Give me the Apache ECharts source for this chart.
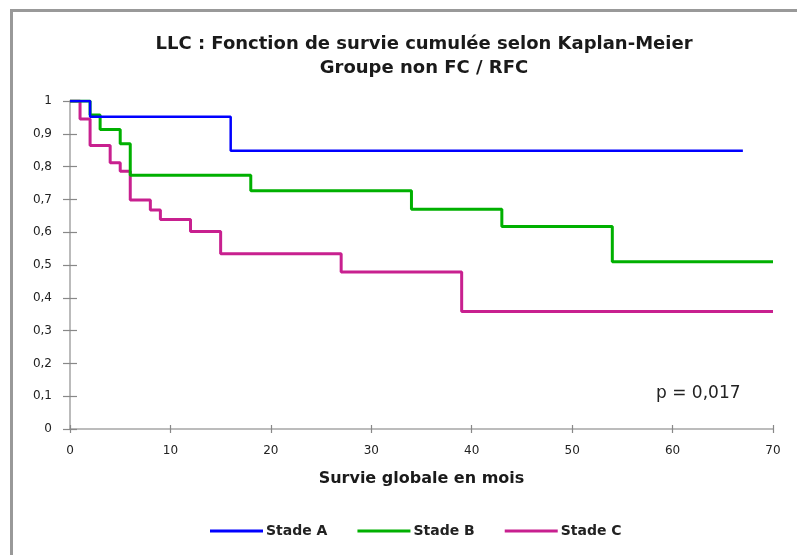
<!DOCTYPE html>
<html>
<head>
<meta charset="utf-8">
<script src="https://cdn.jsdelivr.net/npm/echarts@6/dist/echarts.min.js"></script>
<style>
html,body{margin:0;padding:0;background:#fff;}
#frame{position:absolute;left:10px;top:9px;width:800px;height:560px;border-left:3px solid #999;border-top:3px solid #999;box-sizing:border-box;}
#chart{position:absolute;left:0;top:0;width:797px;height:555px;}
</style>
</head>
<body>
<div id="frame"></div>
<div id="chart"></div>
<script>
const titleLines = ["LLC : Fonction de survie cumulée selon Kaplan-Meier", "Groupe non FC / RFC"];
const xAxisName = "Survie globale en mois";
const pValueText = "p = 0,017";
const seriesNames = ["Stade A", "Stade B", "Stade C"];
const seriesColors = ["#0000ff", "#00b000", "#c8208f"];

const timesA = [0, 2, 16, 67];
const survA  = [1, 0.952, 0.848, 0.848];

const timesB = [0, 2, 3, 5, 6, 18, 34, 43, 54, 70];
const survB  = [1, 0.957, 0.913, 0.870, 0.774, 0.726, 0.670, 0.617, 0.510, 0.510];

const timesC = [0, 1, 2, 4, 5, 6, 8, 9, 12, 15, 27, 39, 70];
const survC  = [1, 0.945, 0.864, 0.812, 0.786, 0.698, 0.668, 0.639, 0.602, 0.534, 0.479, 0.358, 0.358];

const xTicks = [0, 10, 20, 30, 40, 50, 60, 70];
const yTicks = [0, 0.1, 0.2, 0.3, 0.4, 0.5, 0.6, 0.7, 0.8, 0.9, 1];

const pair = (t, s) => t.map((v, i) => [v, s[i]]);
const allData = [pair(timesA, survA), pair(timesB, survB), pair(timesC, survC)];
const widths = [2.5, 3, 3];

const chart = echarts.init(document.getElementById('chart'), null, {renderer: 'canvas'});
const fmtY = v => (Math.round(v * 10) / 10).toString().replace('.', ',');
const axisGray = '#a6a6a6';

chart.setOption({
  backgroundColor: 'transparent',
  animation: false,
  title: {
    text: titleLines.join('\n'),
    left: 419, top: 27, textAlign: 'center',
    textStyle: {fontFamily: 'DejaVu Sans', fontSize: 18, fontWeight: 'bold', color: '#1a1a1a', lineHeight: 24}
  },
  graphic: [{
    type: 'text', left: 656, top: 385,
    style: {text: pValueText, font: '17px "DejaVu Sans"', fill: '#222'}
  }],
  legend: {
    bottom: 12, left: 205,
    itemWidth: 53, itemHeight: 3, itemGap: 30,
    icon: 'rect',
    textStyle: {fontFamily: 'DejaVu Sans', fontSize: 14, fontWeight: 'bold', color: '#222', padding: [0, 0, 0, -2]},
    data: seriesNames
  },
  grid: {left: 70, right: 24, top: 101, bottom: 126, containLabel: false},
  xAxis: [{
    type: 'value', min: 0, max: 70, interval: 10,
    name: xAxisName, nameLocation: 'middle', nameGap: 42,
    nameTextStyle: {fontFamily: 'DejaVu Sans', fontSize: 16, fontWeight: 'bold', color: '#1a1a1a'},
    axisLine: {show: true, lineStyle: {color: axisGray, width: 1.5}},
    axisTick: {show: true, inside: false, length: 4, lineStyle: {color: '#888', width: 1.2}},
    axisLabel: {fontFamily: 'DejaVu Sans', fontSize: 12, color: '#222', margin: 16},
    splitLine: {show: false}
  }, {
    type: 'value', min: 0, max: 70, interval: 10, position: 'bottom',
    axisLine: {show: false},
    axisTick: {show: true, inside: true, length: 4, lineStyle: {color: '#888', width: 1.2}},
    axisLabel: {show: false}, splitLine: {show: false}
  }],
  yAxis: [{
    type: 'value', min: 0, max: 1, interval: 0.1,
    axisLine: {show: true, lineStyle: {color: '#bbb', width: 2}},
    axisTick: {show: true, inside: false, length: 7, lineStyle: {color: '#888', width: 1.2}},
    axisLabel: {fontFamily: 'DejaVu Sans', fontSize: 12, color: '#222', margin: 18, formatter: fmtY},
    splitLine: {show: false}
  }, {
    type: 'value', min: 0, max: 1, interval: 0.1, position: 'left',
    axisLine: {show: false},
    axisTick: {show: true, inside: true, length: 7, lineStyle: {color: '#888', width: 1.2}},
    axisLabel: {show: false}, splitLine: {show: false}
  }],
  series: seriesNames.map((n, i) => ({
    name: n, type: 'line', step: 'end', showSymbol: false, symbol: 'none',
    data: allData[i], color: seriesColors[i],
    lineStyle: {color: seriesColors[i], width: widths[i]},
    z: 3 - i
  }))
});
</script>
</body>
</html>
